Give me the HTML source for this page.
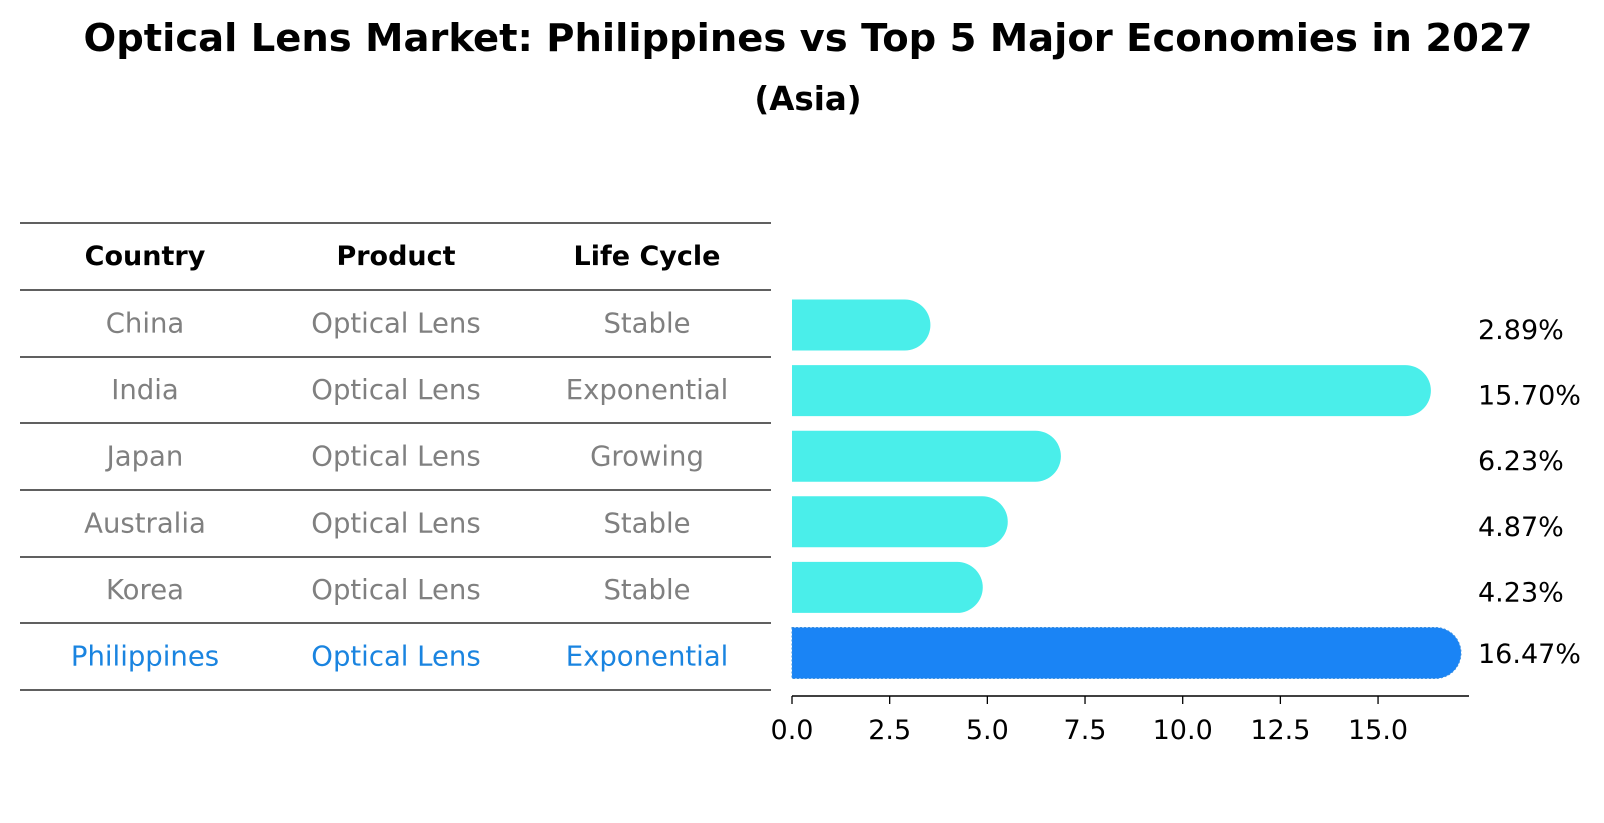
<!DOCTYPE html>
<html><head><meta charset="utf-8"><style>
body{margin:0;background:#fff;}
svg{display:block;font-family:"DejaVu Sans","Liberation Sans",sans-serif;}
</style></head><body>
<svg id="chart" width="1604" height="823" viewBox="0 0 1604 823">
<text x="808" y="51" text-anchor="middle" font-size="38.5" font-weight="bold">Optical Lens Market: Philippines vs Top 5 Major Economies in 2027</text>
<text x="808" y="110" text-anchor="middle" font-size="32.5" font-weight="bold">(Asia)</text>
<g id="table"></g>
<g id="bars"></g>
</svg>
<script>
const countries=["China","India","Japan","Australia","Korea","Philippines"];
const products=["Optical Lens","Optical Lens","Optical Lens","Optical Lens","Optical Lens","Optical Lens"];
const lifecycles=["Stable","Exponential","Growing","Stable","Stable","Exponential"];
const values=[2.89,15.70,6.23,4.87,4.23,16.47];
const ticks=[0,2.5,5,7.5,10,12.5,15];
const NS="http://www.w3.org/2000/svg";
function mk(t,a,p){const e=document.createElementNS(NS,t);for(const k in a)e.setAttribute(k,a[k]);p.appendChild(e);return e;}
const x0=792,pxPer=39.07;
const xs=v=>x0+v*pxPer;
const rowY=i=>325+i*65.6;
const tbl=document.getElementById('table');
const colX=[145,396,647];
const lineYs=[223,290,357,423,490,557,623,690];
lineYs.forEach((y,i)=>{const l=mk('line',{x1:20,x2:771,y1:y,y2:y,stroke:'#000','stroke-width':1.2},tbl);

});
["Country","Product","Life Cycle"].forEach((h,j)=>{const t=mk('text',{x:colX[j],y:265,'text-anchor':'middle','font-size':27,'font-weight':'bold'},tbl);t.textContent=h;

});
countries.forEach((c,i)=>{const col=i===5?'#1a84e0':'#808080';
[c,products[i],lifecycles[i]].forEach((s,j)=>{const t=mk('text',{x:colX[j],y:(lineYs[i+1]+lineYs[i+2])/2+9,'text-anchor':'middle','font-size':27.5,fill:col},tbl);t.textContent=s;

});});
const g=document.getElementById('bars');
const h=51,r=25.5;
values.forEach((v,i)=>{const cy=rowY(i);const col=i===5?'#1a84f5':'#4aeeea';
const xe=xs(v);
const p=mk('path',{d:`M${x0},${cy-h/2} L${xe},${cy-h/2} A${r},${r} 0 0 1 ${xe},${cy+h/2} L${x0},${cy+h/2} Z`,fill:col},g);
if(i===5){p.setAttribute('stroke','#3a8fe0');p.setAttribute('stroke-dasharray','2 2');}


const t=mk('text',{x:1478,y:cy+10+(i<5?4:0),'font-size':27},g);t.textContent=v.toFixed(2)+'%';

});
const ax=mk('line',{x1:792,x2:1469,y1:696,y2:696,stroke:'#000','stroke-width':1.5},g);


ticks.forEach(tv=>{const x=xs(tv);
const tl=mk('line',{x1:x,x2:x,y1:696,y2:704,stroke:'#000','stroke-width':1.3},g);


const t=mk('text',{x:x,y:739,'text-anchor':'middle','font-size':27},g);t.textContent=tv.toFixed(1);

});
</script>
</body></html>
